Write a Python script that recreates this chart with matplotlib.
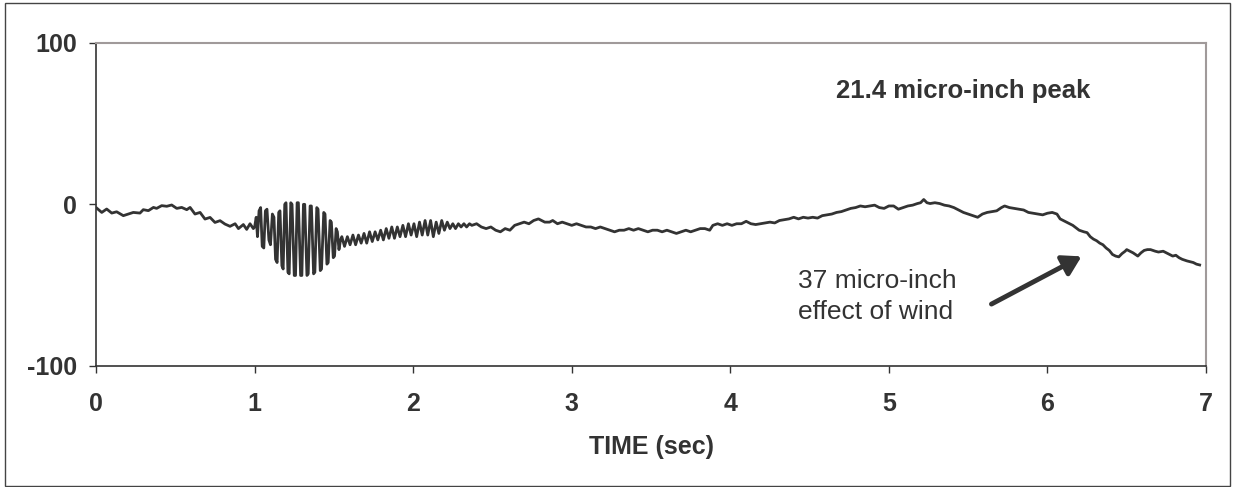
import numpy as np
import matplotlib.pyplot as plt
from matplotlib.patches import Rectangle

plt.rcParams['font.family'] = ['Liberation Sans', 'DejaVu Sans']
plt.rcParams['axes.unicode_minus'] = False

# time (sec) / displacement (micro-inch)
t_quiet = [0.004, 0.036, 0.067, 0.099, 0.130, 0.172, 0.204, 0.235, 0.277, 0.298,
           0.330, 0.362, 0.382, 0.414, 0.446, 0.477, 0.509, 0.540, 0.572, 0.593,
           0.624, 0.656, 0.687, 0.719, 0.750, 0.782, 0.813, 0.845, 0.877, 0.898,
           0.929, 0.950, 0.971, 0.992]
y_quiet = [-2.3, -5.0, -2.9, -5.4, -4.6, -7.0, -6.0, -5.0, -5.4, -3.3,
           -3.9, -1.9, -2.5, -0.8, -1.2, -0.4, -2.5, -1.9, -3.3, -1.9,
           -6.0, -5.0, -9.1, -8.1, -11.2, -10.1, -12.2, -13.6, -12.0, -15.0,
           -12.5, -15.5, -12.0, -15.0]

t_burst = [1.000, 1.010, 1.018, 1.028, 1.038, 1.048, 1.058, 1.068, 1.078, 1.090,
           1.100, 1.112, 1.122, 1.132, 1.142, 1.152, 1.160, 1.172, 1.180, 1.190,
           1.198, 1.210, 1.218, 1.228, 1.236, 1.250, 1.258, 1.268, 1.276, 1.290,
           1.298, 1.308, 1.316, 1.330, 1.338, 1.350, 1.358, 1.372, 1.380, 1.392,
           1.400, 1.414, 1.422, 1.436, 1.444, 1.456, 1.464, 1.476, 1.484, 1.496,
           1.504, 1.514, 1.522, 1.532, 1.542]
y_burst = [-14, -8, -20, -4, -2, -26, -27, -4, -3, -22,
           -25, -6, -8, -34, -36, -5, -4, -38, -40, 0,
           1, -42, -43, 1, 0, -44, -44, 1, 1, -44,
           -44, 0, 0, -44, -43, -1, -1, -43, -42, -2,
           -3, -41, -40, -5, -6, -37, -36, -10, -11, -33,
           -32, -15, -17, -28, -22]

t_ripple = [1.550, 1.567, 1.585, 1.602, 1.620, 1.637, 1.655, 1.672, 1.690, 1.707,
            1.725, 1.742, 1.760, 1.777, 1.795, 1.812, 1.830, 1.847, 1.865, 1.882,
            1.900, 1.917, 1.935, 1.952, 1.970, 1.987, 2.005, 2.022, 2.040, 2.057,
            2.075, 2.092, 2.110, 2.127, 2.145, 2.162, 2.180, 2.197, 2.215, 2.232,
            2.250, 2.267, 2.285, 2.302, 2.320, 2.337, 2.355]
y_ripple = [-20, -26, -20, -25, -19, -25, -19, -24, -18, -24,
            -17, -23, -17, -22, -16, -22, -15, -21, -14, -21,
            -14, -20, -13, -20, -12, -19, -12, -20, -11, -19,
            -10, -19, -10, -20, -11, -18, -10, -16, -11, -15,
            -12, -15, -12, -14, -12, -14, -12]

t_mid = [2.370, 2.400, 2.430, 2.460, 2.490, 2.520, 2.550, 2.580, 2.610, 2.640,
         2.670, 2.700, 2.730, 2.760, 2.790, 2.810, 2.830, 2.860, 2.880, 2.910,
         2.940, 2.970, 3.000, 3.030, 3.060, 3.090, 3.120, 3.150, 3.180, 3.210,
         3.240, 3.270, 3.300, 3.330, 3.360, 3.390, 3.420, 3.450, 3.480, 3.510,
         3.540, 3.570, 3.600, 3.630, 3.660, 3.690, 3.720, 3.750, 3.780, 3.810,
         3.840, 3.870, 3.890, 3.920, 3.950, 3.980, 4.010, 4.040, 4.070, 4.100,
         4.130, 4.160, 4.190, 4.220, 4.250, 4.280, 4.310, 4.340, 4.370, 4.400,
         4.430, 4.460, 4.490, 4.520, 4.550]
y_mid = [-13, -12, -14, -15, -14, -16, -17, -15, -16, -13,
         -12, -11, -12, -10, -9, -10, -11, -11, -10, -12,
         -11, -12, -13, -12, -13, -14, -14, -15, -14, -15,
         -16, -17, -16, -16, -15, -16, -15, -16, -17, -16,
         -16, -17, -16, -17, -18, -17, -16, -17, -16, -15,
         -15, -16, -13, -12, -13, -12, -13, -12, -12, -10.5,
         -12, -12.5, -12, -11.5, -11, -11.5, -10, -9.5, -9, -8,
         -9, -8, -8.5, -8, -8.5]

t_late = [4.580, 4.610, 4.640, 4.670, 4.700, 4.730, 4.760, 4.790, 4.820, 4.850,
          4.880, 4.910, 4.940, 4.970, 5.000, 5.030, 5.060, 5.090, 5.120, 5.150,
          5.180, 5.200, 5.220, 5.240, 5.260, 5.290, 5.320, 5.350, 5.380, 5.410,
          5.440, 5.470, 5.500, 5.530, 5.560, 5.590, 5.620, 5.650, 5.680, 5.710,
          5.730, 5.760, 5.790, 5.820, 5.850, 5.880, 5.910, 5.940, 5.970, 6.000,
          6.030, 6.060]
y_late = [-7, -6.5, -6, -5, -4.5, -3.5, -2.5, -2, -1, -1.5,
          -1, -0.5, -2, -2.5, -1, -1, -3, -2, -1, -0.5,
          0.5, 1, 3, 1, 0.5, 1, 0.5, -0.5, -1, -2,
          -3.5, -5, -6, -7, -8, -6, -5, -4.5, -4, -2,
          -1, -2, -2.5, -3, -3.5, -5, -5.5, -6, -6.5, -5.5,
          -5, -6]

t_wind = [6.080, 6.100, 6.120, 6.140, 6.160, 6.180, 6.200, 6.230, 6.250, 6.270,
          6.290, 6.310, 6.330, 6.350, 6.370, 6.390, 6.410, 6.430, 6.450, 6.470,
          6.490, 6.500, 6.520, 6.540, 6.570, 6.590, 6.610, 6.630, 6.650, 6.680,
          6.700, 6.730, 6.750, 6.770, 6.790, 6.810, 6.830, 6.850, 6.880, 6.900,
          6.920, 6.940, 6.960]
y_wind = [-9, -10, -11, -12, -13, -14.5, -16, -17, -17.5, -20,
          -21.5, -22.5, -24, -25, -27, -28.5, -31, -32, -32.5, -30.5,
          -29, -28, -29, -30, -32, -30, -28.5, -28, -28, -29,
          -29.5, -29, -30, -31, -32, -31.5, -33, -34, -35, -35.5,
          -36, -37, -37.5]

x_ticks = [0, 1, 2, 3, 4, 5, 6, 7]
y_ticks = [-100, 0, 100]

t = np.concatenate([t_quiet, t_burst, t_ripple, t_mid, t_late, t_wind])
y = np.concatenate([y_quiet, y_burst, y_ripple, y_mid, y_late, y_wind])

fig = plt.figure(figsize=(12.33, 4.87), dpi=100)
ax = fig.add_axes([0.0779, 0.2485, 0.9002, 0.6638])

ax.plot(t, y, color='#333333', lw=2.0)

ax.set_xlim(0, 7)
ax.set_ylim(-100, 100)
ax.set_xticks(x_ticks)
ax.set_yticks(y_ticks)
ax.tick_params(length=5, width=1, color='#333333', labelsize=18, labelcolor='#333333')
ax.tick_params(axis='x', pad=14)
ax.tick_params(axis='y', pad=8.5)
for lab in ax.get_xticklabels() + ax.get_yticklabels():
    lab.set_fontweight('bold')

for side in ['left', 'bottom']:
    ax.spines[side].set_color('#333333')
    ax.spines[side].set_linewidth(1.2)
for side in ['top', 'right']:
    ax.spines[side].set_color('#a09a9a')
    ax.spines[side].set_linewidth(1.5)

ax.set_xlabel('TIME (sec)', fontsize=18, fontweight='bold', color='#333333')
ax.xaxis.set_label_coords(0.5, -0.215)

ax.text(5.47, 70, '21.4 micro-inch peak', ha='center', va='center',
        fontsize=18.5, fontweight='bold', color='#333333')
ax.text(4.43, -57, '37 micro-inch\neffect of wind', ha='left', va='center',
        fontsize=19, color='#333333', linespacing=1.35)
ax.annotate('', xy=(6.215, -32.2), xytext=(5.647, -61.7),
            arrowprops=dict(arrowstyle='-|>,head_length=0.5,head_width=0.3',
                            lw=3.5, color='#333333', mutation_scale=22,
                            shrinkA=0, shrinkB=0))

fig.patches.append(Rectangle((0.004, 0.002), 0.9936, 0.9918, transform=fig.transFigure,
                             fill=False, lw=1, edgecolor='#444444'))

plt.savefig('out.png', dpi=100)
